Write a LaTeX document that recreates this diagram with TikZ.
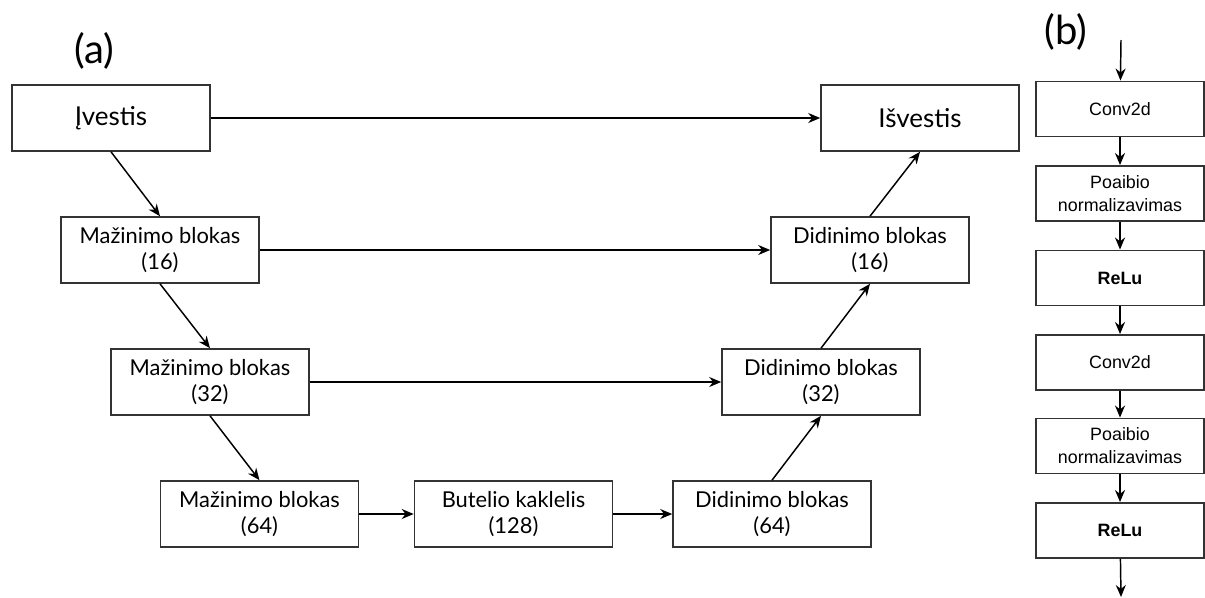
\documentclass[tikz,border=0pt]{standalone}
\usepackage{fontspec}
\setmainfont{Lato}
\newfontfamily\arialfont{Liberation Sans}
\usetikzlibrary{arrows.meta, positioning}

\begin{document}
\begin{tikzpicture}[x=0.75pt,y=-0.75pt,>={Stealth[length=9pt,width=7.5pt]},line width=1.1pt,
  blokas/.style={draw=black!80,line width=1.2pt,minimum width=148.5pt,minimum height=49.5pt,
    align=center,inner sep=0pt,font=\fontsize{16.4}{20}\selectfont},
  galas/.style={blokas,font=\fontsize{19.5}{22}\selectfont},
  sluoksnis/.style={draw=black!80,line width=1.2pt,minimum width=126pt,minimum height=41.5pt,
    align=center,inner sep=0pt,font=\arialfont\fontsize{13.4}{17.3}\selectfont},
  raide/.style={font=\fontsize{30}{32}\selectfont}]
  \useasboundingbox (0,0) rectangle (1205,597);
  \node[raide] (a) at (94,51) {(a)};
  \node[raide] (b) at (1066,32) {(b)};
  \node[galas] (ivestis) at (111,118) {Įvestis};
  \node[galas] (isvestis) at (920,118) {Išvestis};
  \node[blokas] (maz16) at (160,250) {Mažinimo blokas\\(16)};
  \node[blokas] (maz32) at (210,382) {Mažinimo blokas\\(32)};
  \node[blokas] (maz64) at (259.5,514) {Mažinimo blokas\\(64)};
  \node[blokas] (butelis) at (513.5,514) {Butelio kaklelis\\(128)};
  \node[blokas] (did64) at (772,514) {Didinimo blokas\\(64)};
  \node[blokas] (did32) at (821,382) {Didinimo blokas\\(32)};
  \node[blokas] (did16) at (870,250) {Didinimo blokas\\(16)};
  \draw[->] (ivestis) -- (isvestis);
  \draw[->] (maz16) -- (did16);
  \draw[->] (maz32) -- (did32);
  \draw[->] (maz64) -- (butelis);
  \draw[->] (butelis) -- (did64);
  \draw[->] (ivestis.south) -- (maz16.north);
  \draw[->] (maz16.south) -- (maz32.north);
  \draw[->] (maz32.south) -- (maz64.north);
  \draw[->] (did64.north) -- (did32.south);
  \draw[->] (did32.north) -- (did16.south);
  \draw[->] (did16.north) -- (isvestis.south);
  \coordinate (ieiga) at (1121,40);
  \coordinate (isejimas) at (1121,597);
  \node[sluoksnis] (conv1) at (1120,109) {Conv2d};
  \node[sluoksnis] (norm1) at (1120,193.5) {Poaibio\\normalizavimas};
  \node[sluoksnis] (relu1) at (1120,278) {\bfseries ReLu};
  \node[sluoksnis] (conv2) at (1120,362.5) {Conv2d};
  \node[sluoksnis] (norm2) at (1120,446) {Poaibio\\normalizavimas};
  \node[sluoksnis] (relu2) at (1120,530.5) {\bfseries ReLu};
  \draw[->] (ieiga) -- (conv1);
  \draw[->] (conv1) -- (norm1);
  \draw[->] (norm1) -- (relu1);
  \draw[->] (relu1) -- (conv2);
  \draw[->] (conv2) -- (norm2);
  \draw[->] (norm2) -- (relu2);
  \draw[->] (relu2) -- (isejimas);
\end{tikzpicture}
\end{document}
